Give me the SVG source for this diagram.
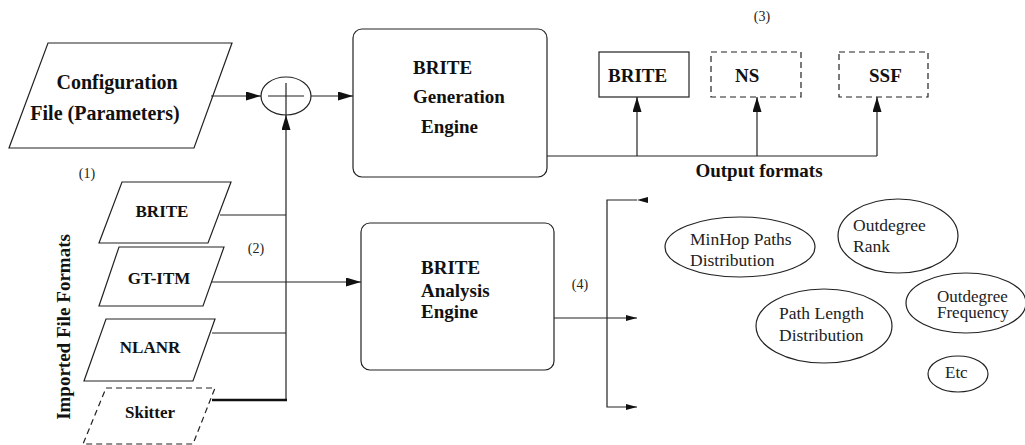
<svg xmlns="http://www.w3.org/2000/svg" width="1025" height="445" viewBox="0 0 1025 445">
<defs>
<style>
.s{fill:#fff;stroke:#222;stroke-width:1.2}
.d{fill:#fff;stroke:#222;stroke-width:1.2;stroke-dasharray:6,4}
.c{fill:none;stroke:#222;stroke-width:1.2}
text{font-family:"Liberation Serif","Times New Roman","DejaVu Serif",serif}
.b{font-weight:bold;fill:#111}
.n{fill:#222}
</style>
<marker id="ah" markerUnits="userSpaceOnUse" markerWidth="15" markerHeight="9" refX="15" refY="4.5" orient="auto"><path d="M0,0 L15,4.5 L0,9 z" fill="#111"/></marker>
<marker id="as" markerUnits="userSpaceOnUse" markerWidth="11" markerHeight="6" refX="11" refY="3" orient="auto"><path d="M0,0 L11,3 L0,6 z" fill="#111"/></marker>
</defs>
<rect width="1025" height="445" fill="#fff"/>

<g id="config">
<polygon class="s" points="48,43 232,43 194,148 9,148"/>
<text class="b" x="117" y="89" font-size="20" text-anchor="middle" font-family="Liberation Serif, serif">Configuration</text>
<text class="b" x="105" y="120" font-size="20" text-anchor="middle" font-family="Liberation Serif, serif">File (Parameters)</text>
</g>

<g id="combiner">
<ellipse class="s" cx="286" cy="96" rx="25" ry="19"/>
<line class="c" x1="268" y1="96" x2="304" y2="96"/>
<line class="c" x1="286" y1="83" x2="286" y2="115"/>
</g>

<g id="gen-engine">
<rect class="s" x="353" y="29" width="194" height="148" rx="9"/>
<text class="b" font-size="19"><tspan x="413" y="74">BRITE</tspan><tspan x="413" y="103">Generation</tspan><tspan x="421" y="133">Engine</tspan></text>
</g>

<g id="out-brite">
<rect class="s" x="599" y="52" width="90" height="45"/>
<text class="b" x="608" y="82" font-size="19">BRITE</text>
</g>
<g id="out-ns">
<rect class="d" x="711" y="52" width="90" height="45"/>
<text class="b" x="735" y="82" font-size="19">NS</text>
</g>
<g id="out-ssf">
<rect class="d" x="839" y="52" width="89" height="45"/>
<text class="b" x="869" y="82" font-size="19">SSF</text>
</g>

<g id="imp-brite">
<polygon class="s" points="122,182 231,182 208,243 99,243"/>
<text class="b" x="162" y="217" font-size="17" text-anchor="middle">BRITE</text>
</g>
<g id="imp-gtitm">
<polygon class="s" points="119,247 224,247 203,306 99,306"/>
<text class="b" x="159" y="284" font-size="17" text-anchor="middle">GT-ITM</text>
</g>
<g id="imp-nlanr">
<polygon class="s" points="106,319 215,319 193,381 84,381"/>
<text class="b" x="150" y="353" font-size="17" text-anchor="middle">NLANR</text>
</g>
<g id="imp-skitter">
<polygon class="d" points="106,388 215,388 193,444 83,444"/>
<text class="b" x="150" y="418" font-size="17" text-anchor="middle">Skitter</text>
</g>

<g id="ana-engine">
<rect class="s" x="361" y="223" width="193" height="147" rx="9"/>
<text class="b" font-size="19"><tspan x="421" y="274">BRITE</tspan><tspan x="421" y="297">Analysis</tspan><tspan x="421" y="318">Engine</tspan></text>
</g>

<g id="e-minhop">
<ellipse class="s" cx="740" cy="247" rx="75" ry="30"/>
<text class="n" font-size="17.5"><tspan x="690" y="245">MinHop Paths</tspan><tspan x="690" y="266">Distribution</tspan></text>
</g>
<g id="e-rank">
<ellipse class="s" cx="898" cy="236" rx="60" ry="37"/>
<text class="n" font-size="17.5"><tspan x="853" y="231">Outdegree</tspan><tspan x="853" y="252">Rank</tspan></text>
</g>
<g id="e-pathlen">
<ellipse class="s" cx="824" cy="326" rx="68" ry="37"/>
<text class="n" font-size="17.5"><tspan x="779" y="319">Path Length</tspan><tspan x="779" y="341">Distribution</tspan></text>
</g>
<g id="e-freq">
<ellipse class="s" cx="966" cy="303" rx="60" ry="30"/>
<text class="n" font-size="17"><tspan x="937" y="302">Outdegree</tspan><tspan x="937" y="318">Frequency</tspan></text>
</g>
<g id="e-etc">
<ellipse class="s" cx="958" cy="374" rx="30" ry="18"/>
<text class="n" x="945" y="378" font-size="17">Etc</text>
</g>

<g id="labels">
<text class="n" x="762" y="21" font-size="14" text-anchor="middle">(3)</text>
<text class="n" x="87" y="178" font-size="14" text-anchor="middle">(1)</text>
<text class="n" x="256" y="253" font-size="14" text-anchor="middle">(2)</text>
<text class="n" x="580" y="289" font-size="14" text-anchor="middle">(4)</text>
<text class="b" x="759" y="177" font-size="19" text-anchor="middle">Output formats</text>
<text class="b" font-size="19" text-anchor="middle" transform="translate(70,327) rotate(-90)">Imported File Formats</text>
</g>

<g id="connectors">
<line class="c" x1="211" y1="96" x2="261" y2="96" marker-end="url(#ah)"/>
<line class="c" x1="311" y1="96" x2="353" y2="96" marker-end="url(#ah)"/>
<line class="c" x1="286" y1="400" x2="286" y2="115" marker-end="url(#ah)"/>
<line class="c" x1="220" y1="215" x2="286" y2="215"/>
<line class="c" x1="212" y1="333" x2="286" y2="333"/>
<line x1="212" y1="400" x2="287" y2="400" stroke="#111" stroke-width="2.6"/>
<line class="c" x1="211" y1="282" x2="361" y2="282" marker-end="url(#ah)"/>
<polyline class="c" points="547,156 877,156"/>
<line class="c" x1="637" y1="156" x2="637" y2="97" marker-end="url(#ah)"/>
<line class="c" x1="757" y1="156" x2="757" y2="97" marker-end="url(#ah)"/>
<line class="c" x1="877" y1="156" x2="877" y2="97" marker-end="url(#ah)"/>
<line class="c" x1="554" y1="318" x2="637" y2="318" marker-end="url(#as)"/>
<polyline class="c" points="637,200 607,200 607,407 637,407" marker-start="url(#as)" marker-end="url(#as)"/>
</g>
</svg>
